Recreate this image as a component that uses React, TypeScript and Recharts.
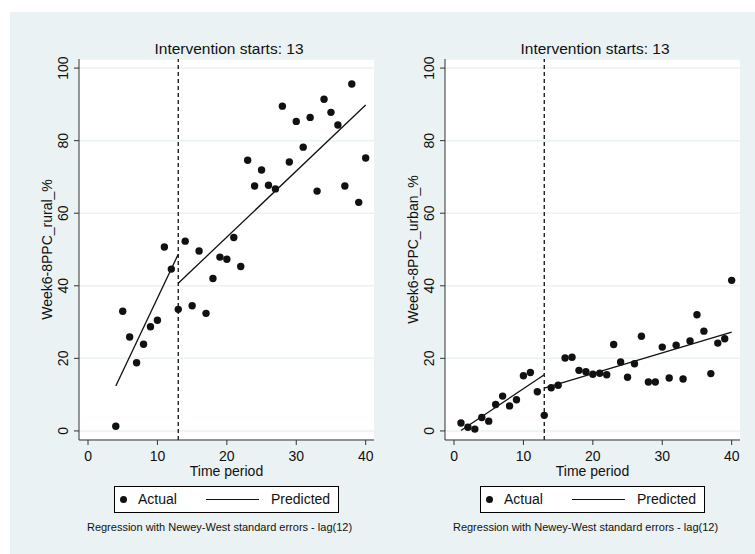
import React from "react";
import {
  ComposedChart,
  Scatter,
  Line,
  XAxis,
  YAxis,
  CartesianGrid,
  ReferenceLine,
} from "recharts";

// rural panel
const periodsRural = [
  4, 5, 6, 7, 8, 9, 10, 11, 12, 13, 14, 15, 16, 17, 18, 19, 20, 21, 22, 23, 24,
  25, 26, 27, 28, 29, 30, 31, 32, 33, 34, 35, 36, 37, 38, 39, 40,
];
const actualRural = [
  1.3, 33.0, 25.9, 18.8, 23.9, 28.7, 30.5, 50.7, 44.6, 33.5, 52.3, 34.5, 49.6,
  32.4, 42.0, 47.9, 47.3, 53.3, 45.3, 74.6, 67.5, 71.9, 67.7, 66.7, 89.5, 74.1,
  85.3, 78.2, 86.4, 66.1, 91.4, 87.8, 84.3, 67.5, 95.6, 63.0, 75.2,
];
const predPrePeriodsRural = [4, 13];
const predPreRural = [12.4, 48.7];
const predPostPeriodsRural = [13, 40];
const predPostRural = [40.7, 89.8];

// urban panel
const periodsUrban = [
  1, 2, 3, 4, 5, 6, 7, 8, 9, 10, 11, 12, 13, 14, 15, 16, 17, 18, 19, 20, 21, 22,
  23, 24, 25, 26, 27, 28, 29, 30, 31, 32, 33, 34, 35, 36, 37, 38, 39, 40,
];
const actualUrban = [
  2.2, 1.0, 0.5, 3.7, 2.7, 7.3, 9.6, 6.9, 8.6, 15.2, 16.1, 10.8, 4.3, 11.9, 12.6,
  20.1, 20.3, 16.7, 16.3, 15.6, 15.9, 15.5, 23.8, 19.0, 14.8, 18.5, 26.1, 13.5,
  13.5, 23.1, 14.6, 23.6, 14.3, 24.8, 32.0, 27.5, 15.8, 24.2, 25.4, 41.5,
];
const predPrePeriodsUrban = [1, 13];
const predPreUrban = [0.1, 15.5];
const predPostPeriodsUrban = [13, 40];
const predPostUrban = [11.8, 27.2];

const xTicks = [0, 10, 20, 30, 40];
const yTicks = [0, 20, 40, 60, 80, 100];
const interventionStart = 13;

const FONT = '"Liberation Sans", Arial, sans-serif';
const BG = "#eaf2f3";
const INK = "#111";

const zip = (xs: number[], ys: number[]) => xs.map((x, i) => ({ x, y: ys[i] }));

const PLOT_W = 295;
const PLOT_TOP = 59;
const PLOT_BOTTOM = 440;

interface PanelProps {
  plotLeft: number;
  yLabel: string;
  actual: { x: number; y: number }[];
  pre: { x: number; y: number }[];
  post: { x: number; y: number }[];
}

const YTick = (props: any) => {
  const { x, y, payload } = props;
  const bx = x - 4;
  return (
    <text
      x={bx}
      y={y}
      transform={`rotate(-90 ${bx} ${y})`}
      textAnchor="middle"
      fontSize={14}
      fontFamily={FONT}
      fill={INK}
    >
      {payload.value}
    </text>
  );
};

const Panel: React.FC<PanelProps> = ({ plotLeft, yLabel, actual, pre, post }) => {
  const chartLeft = plotLeft - 79;
  return (
    <>
      <div
        style={{
          position: "absolute",
          left: plotLeft + 2.5,
          top: 40,
          width: PLOT_W,
          textAlign: "center",
          fontFamily: FONT,
          fontSize: 15.5,
          lineHeight: "18px",
          color: INK,
        }}
      >
        Intervention starts: {interventionStart}
      </div>
      <div style={{ position: "absolute", left: chartLeft, top: 0 }}>
        <ComposedChart
          width={380}
          height={554}
          margin={{ top: PLOT_TOP, left: 49, right: 6, bottom: 554 - PLOT_BOTTOM - 30 }}
        >
          <CartesianGrid
            horizontal
            vertical={false}
            fill="#ffffff"
            stroke={BG}
            strokeWidth={1.5}
          />
          <XAxis
            dataKey="x"
            type="number"
            domain={[-1.3, 41.2]}
            ticks={xTicks}
            allowDataOverflow
            height={30}
            tickSize={5}
            tickMargin={6}
            stroke="#333"
            tick={{ fontSize: 14, fill: INK, fontFamily: FONT }}
            label={{
              content: (p: any) => {
                const vb = p.viewBox;
                return (
                  <text
                    x={vb.x + vb.width / 2}
                    y={vb.y + 36}
                    textAnchor="middle"
                    fontSize={14}
                    fontFamily={FONT}
                    fill={INK}
                  >
                    Time period
                  </text>
                );
              },
            }}
          />
          <YAxis
            dataKey="y"
            type="number"
            domain={[-2.5, 102.5]}
            ticks={yTicks}
            allowDataOverflow
            width={30}
            tickSize={5}
            stroke="#333"
            tick={YTick}
            label={{
              content: (p: any) => {
                const vb = p.viewBox;
                const lx = vb.x + 3;
                const ly = vb.y + vb.height / 2;
                return (
                  <text
                    x={lx}
                    y={ly}
                    transform={`rotate(-90 ${lx} ${ly})`}
                    textAnchor="middle"
                    fontSize={14}
                    fontFamily={FONT}
                    fill={INK}
                  >
                    {yLabel}
                  </text>
                );
              },
            }}
          />
          <ReferenceLine
            x={interventionStart}
            stroke={INK}
            strokeWidth={1.3}
            strokeDasharray="4 3"
          />
          <Line
            data={pre}
            dataKey="y"
            stroke={INK}
            strokeWidth={1.3}
            dot={false}
            isAnimationActive={false}
          />
          <Line
            data={post}
            dataKey="y"
            stroke={INK}
            strokeWidth={1.3}
            dot={false}
            isAnimationActive={false}
          />
          <Scatter
            data={actual}
            dataKey="y"
            fill={INK}
            isAnimationActive={false}
            shape={(p: any) => <circle cx={p.cx} cy={p.cy} r={3.7} fill={INK} />}
          />
        </ComposedChart>
      </div>
      {/* legend */}
      <div
        style={{
          position: "absolute",
          left: plotLeft + 35,
          top: 486,
          width: 225,
          height: 27,
          boxSizing: "border-box",
          border: "1px solid #000",
          background: "#fff",
          fontFamily: FONT,
          fontSize: 14,
          color: INK,
        }}
      >
        <span
          style={{
            position: "absolute",
            left: 5,
            top: 9,
            width: 7,
            height: 7,
            borderRadius: "50%",
            background: INK,
          }}
        />
        <span style={{ position: "absolute", left: 23, top: 4, lineHeight: "16px" }}>Actual</span>
        <span
          style={{
            position: "absolute",
            left: 91,
            top: 12,
            width: 53,
            height: 1.3,
            background: INK,
          }}
        />
        <span style={{ position: "absolute", left: 156, top: 4, lineHeight: "16px" }}>
          Predicted
        </span>
      </div>
      <div
        style={{
          position: "absolute",
          left: plotLeft - 7,
          top: 520,
          width: PLOT_W,
          textAlign: "center",
          fontFamily: FONT,
          fontSize: 11,
          lineHeight: "14px",
          color: INK,
        }}
      >
        Regression with Newey-West standard errors - lag(12)
      </div>
    </>
  );
};

export default function App() {
  return (
    <div
      style={{
        position: "absolute",
        left: 0,
        top: 0,
        width: 755,
        height: 554,
        background: "#fff",
        overflow: "hidden",
      }}
    >
      <div
        style={{
          position: "absolute",
          left: 10,
          top: 12,
          width: 745,
          height: 542,
          background: BG,
        }}
      />
      <Panel
        plotLeft={79}
        yLabel="Week6-8PPC_rural_%"
        actual={zip(periodsRural, actualRural)}
        pre={zip(predPrePeriodsRural, predPreRural)}
        post={zip(predPostPeriodsRural, predPostRural)}
      />
      <Panel
        plotLeft={445}
        yLabel="Week6-8PPC_urban_%"
        actual={zip(periodsUrban, actualUrban)}
        pre={zip(predPrePeriodsUrban, predPreUrban)}
        post={zip(predPostPeriodsUrban, predPostUrban)}
      />
    </div>
  );
}
